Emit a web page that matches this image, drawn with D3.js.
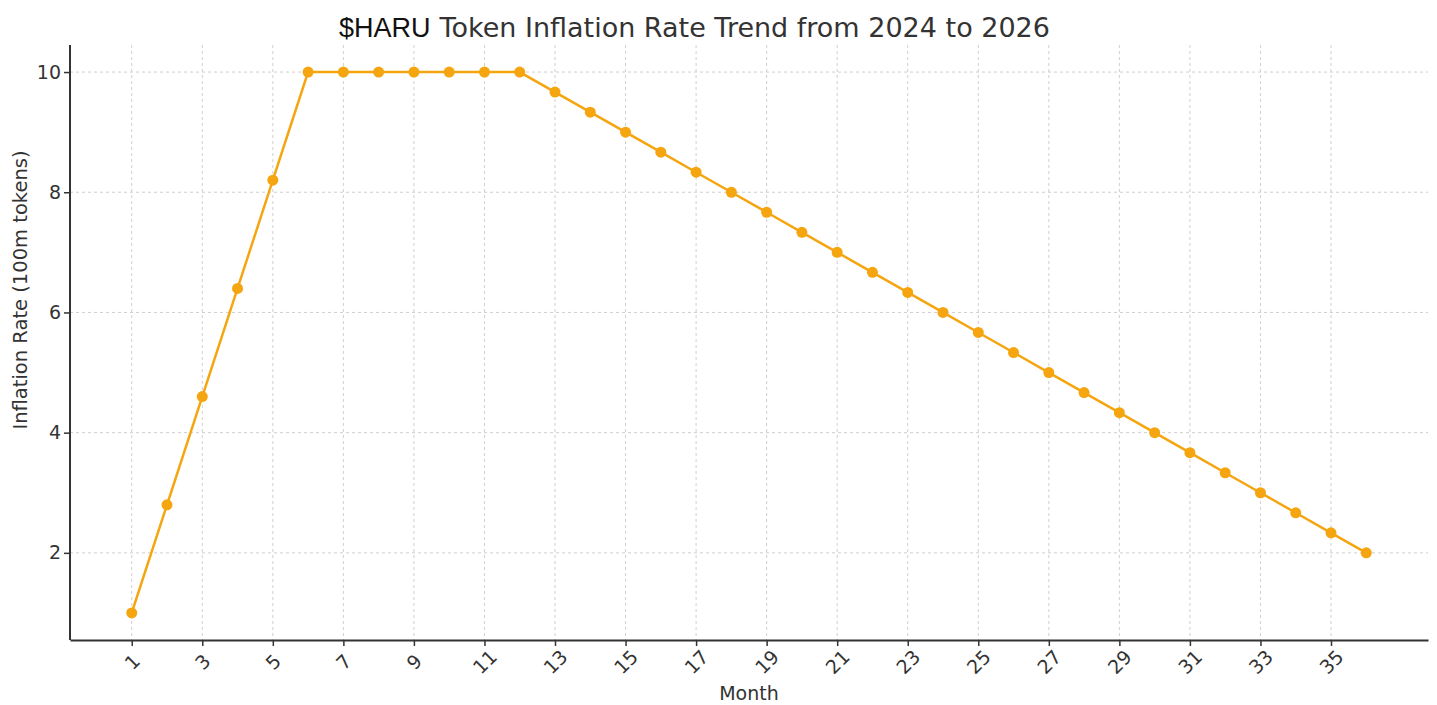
<!DOCTYPE html>
<html><head><meta charset="utf-8">
<script src="https://cdn.jsdelivr.net/npm/d3@7"></script>
<style>body{margin:0;background:#fff;} svg{display:block;}</style>
</head><body>
<svg id="c" width="1437" height="705"></svg>
<script>
const months = [1,2,3,4,5,6,7,8,9,10,11,12,13,14,15,16,17,18,19,20,21,22,23,24,25,26,27,28,29,30,31,32,33,34,35,36];
const inflation = [1.0,2.8,4.6,6.4,8.2,10,10,10,10,10,10,10,9.667,9.333,9.0,8.667,8.333,8.0,7.667,7.333,7.0,6.667,6.333,6.0,5.667,5.333,5.0,4.667,4.333,4.0,3.667,3.333,3.0,2.667,2.333,2.0];
const xTicks = [1,3,5,7,9,11,13,15,17,19,21,23,25,27,29,31,33,35];
const yTicks = [2,4,6,8,10];

const svg = d3.select("#c");
const L = 70, R = 1428, T = 45, B = 640;
const x = d3.scaleLinear().domain([-0.75, 37.75]).range([L, R]);
const y = d3.scaleLinear().domain([0.55, 10.45]).range([B, T]);

const grid = svg.append("g");
grid.selectAll("line.vx").data(xTicks).join("line")
  .attr("x1", d=>x(d)).attr("x2", d=>x(d)).attr("y1", T).attr("y2", B)
  .attr("stroke", "#cfcfcf").attr("stroke-width", 1).attr("stroke-dasharray", "3,3");
grid.selectAll("line.hy").data(yTicks).join("line")
  .attr("x1", L).attr("x2", R).attr("y1", d=>y(d)).attr("y2", d=>y(d))
  .attr("stroke", "#cfcfcf").attr("stroke-width", 1).attr("stroke-dasharray", "3,3");

const xAxis = svg.append("g").attr("transform", `translate(0,${B})`)
  .call(d3.axisBottom(x).tickValues(xTicks).tickSize(6).tickSizeOuter(0));
xAxis.select(".domain").attr("stroke", "#333").attr("stroke-width", 2);
xAxis.selectAll(".tick line").attr("stroke", "#333").attr("stroke-width", 1.5);
xAxis.selectAll(".tick text")
  .attr("font-family", "DejaVu Sans").attr("font-size", 19).attr("fill", "#333")
  .attr("text-anchor", "middle").attr("x", 0).attr("y", 0).attr("dy", "0.35em")
  .attr("transform", "translate(0,22) rotate(-45)");

const yAxis = svg.append("g").attr("transform", `translate(${L},0)`)
  .call(d3.axisLeft(y).tickValues(yTicks).tickSize(6).tickSizeOuter(0).tickPadding(3));
yAxis.select(".domain").attr("stroke", "#333").attr("stroke-width", 2)
  .attr("d", `M0,${B}V${T}`);
yAxis.selectAll(".tick line").attr("stroke", "#333").attr("stroke-width", 1.5);
yAxis.selectAll(".tick text")
  .attr("font-family", "DejaVu Sans").attr("font-size", 19).attr("fill", "#333");

const pts = months.map((m,i)=>[m, inflation[i]]);
svg.append("path").datum(pts)
  .attr("fill", "none").attr("stroke", "#f5a50f").attr("stroke-width", 2.5)
  .attr("d", d3.line().x(d=>x(d[0])).y(d=>y(d[1])));
svg.selectAll("circle.pt").data(pts).join("circle")
  .attr("cx", d=>x(d[0])).attr("cy", d=>y(d[1])).attr("r", 5.5).attr("fill", "#f5a50f");

const title = svg.append("text").attr("x", 339).attr("y", 37)
  .attr("font-size", 27).attr("fill", "#333");
title.append("tspan").attr("font-family", "Liberation Sans").attr("fill", "#111").text("$HARU");
title.append("tspan").attr("font-family", "DejaVu Sans").attr("dx", 9).text("Token Inflation Rate Trend from 2024 to 2026");

svg.append("text").attr("x", (L+R)/2).attr("y", 700).attr("text-anchor", "middle")
  .attr("font-family", "DejaVu Sans").attr("font-size", 19).attr("fill", "#333").text("Month");
svg.append("text").attr("transform", "translate(27,290) rotate(-90)").attr("text-anchor", "middle")
  .attr("font-family", "DejaVu Sans").attr("font-size", 19.5).attr("fill", "#333").text("Inflation Rate (100m tokens)");
</script>
</body></html>
